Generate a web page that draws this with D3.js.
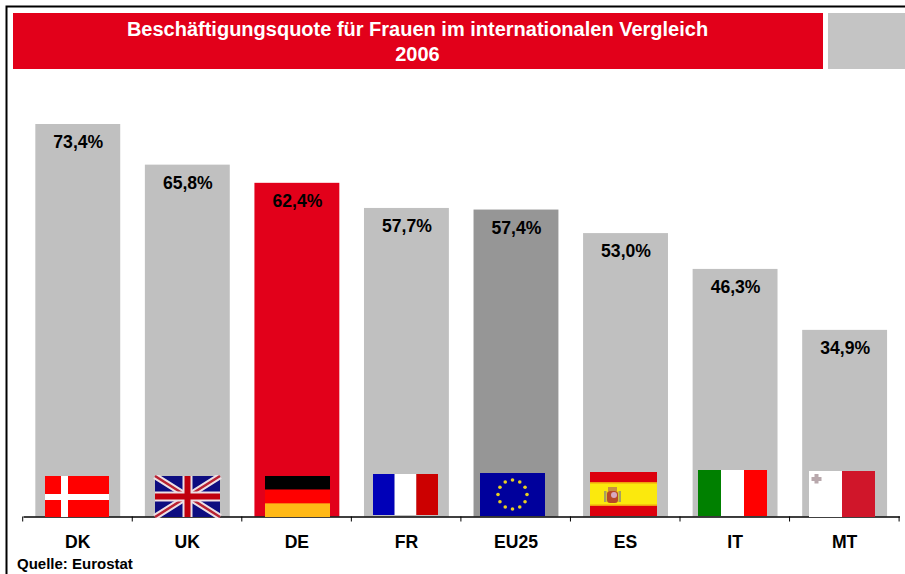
<!DOCTYPE html>
<html>
<head>
<meta charset="utf-8">
<script src="https://cdn.jsdelivr.net/npm/d3@7"></script>
<style>
  html, body { margin: 0; padding: 0; background: #fff; }
  text { font-family: "Liberation Sans", Arial, sans-serif; font-weight: bold; }
</style>
</head>
<body>
<div id="chart"></div>
<script>
const countries = ["DK", "UK", "DE", "FR", "EU25", "ES", "IT", "MT"];
const rates = [73.4, 65.8, 62.4, 57.7, 57.4, 53.0, 46.3, 34.9];
const titleLines = ["Beschäftigungsquote für Frauen im internationalen Vergleich", "2006"];
const source = "Quelle: Eurostat";

const width = 905, height = 574;
const baseY = 516.5, topY = 124;
const red = "#e2001a", grey = "#c0c0c0", darkGrey = "#969696";

const svg = d3.select("#chart").append("svg")
  .attr("width", width)
  .attr("height", height)
  .style("display", "block");

// flag pictures in the original are slightly soft
const defs = svg.append("defs");
defs.append("filter").attr("id", "soft")
  .attr("x", "-2%").attr("y", "-2%").attr("width", "104%").attr("height", "104%")
  .append("feGaussianBlur").attr("stdDeviation", 0.45);

// frame, only top and left side are visible
svg.append("path")
  .attr("d", "M6.5,574V6.5H905")
  .attr("fill", "none")
  .attr("stroke", "#000")
  .attr("stroke-width", 2);

// header
svg.append("rect").attr("x", 13).attr("y", 13).attr("width", 810).attr("height", 56).attr("fill", red);
svg.append("rect").attr("x", 828).attr("y", 13).attr("width", 77).attr("height", 56).attr("fill", "#c4c4c4");
svg.selectAll(".title").data(titleLines).enter().append("text")
  .attr("class", "title")
  .attr("x", 417.5)
  .attr("y", (d, i) => 35.5 + i * 25)
  .attr("text-anchor", "middle")
  .attr("fill", "#fff")
  .attr("font-size", 20)
  .text(d => d);

const x = d3.scaleBand().domain(countries).range([23, 899.4]).paddingInner(0.225).paddingOuter(0.1125);
const y = d3.scaleLinear().domain([0, 73.4]).range([baseY, topY]);

function barColor(c) {
  if (c === "DE") return red;
  if (c === "EU25") return darkGrey;
  return grey;
}

svg.selectAll(".bar").data(countries).enter().append("rect")
  .attr("class", "bar")
  .attr("x", d => x(d))
  .attr("y", (d, i) => y(rates[i]))
  .attr("width", x.bandwidth())
  .attr("height", (d, i) => baseY - y(rates[i]))
  .attr("fill", barColor);

const fmt = d3.format(".1f");
svg.selectAll(".value").data(countries).enter().append("text")
  .attr("class", "value")
  .attr("x", d => x(d) + x.bandwidth() / 2 + 0.5)
  .attr("y", (d, i) => y(rates[i]) + 24)
  .attr("text-anchor", "middle")
  .attr("font-size", 17.6)
  .attr("fill", "#000")
  .text((d, i) => fmt(rates[i]).replace(".", ",") + "%");

// flags, each drawn in a local box
function stripesV(g, w, h, cols) {
  cols.forEach((c, i) => g.append("rect").attr("x", i * w / cols.length).attr("width", w / cols.length).attr("height", h).attr("fill", c));
}
function stripesH(g, w, h, rows) {
  rows.forEach((c, i) => g.append("rect").attr("y", i * h / rows.length).attr("width", w).attr("height", h / rows.length).attr("fill", c));
}
const flagDraw = {
  DK(g, w, h) {
    g.append("rect").attr("width", w).attr("height", h).attr("fill", "#ff0000");
    g.append("rect").attr("x", 16).attr("width", 7).attr("height", h).attr("fill", "#fff");
    g.append("rect").attr("y", 18).attr("width", w).attr("height", 6).attr("fill", "#fff");
  },
  UK(g, w, h) {
    g.append("rect").attr("width", w).attr("height", h).attr("fill", "#0a0a80");
    g.append("path").attr("d", `M0,0L${w},${h}M${w},0L0,${h}`).attr("stroke", "#ece0e4").attr("stroke-width", 6.5);
    g.append("path").attr("d", `M0,0L${w},${h}M${w},0L0,${h}`).attr("stroke", "#b82030").attr("stroke-width", 2.5);
    g.append("path").attr("d", `M${w / 2},0V${h}M0,${h / 2}H${w}`).attr("stroke", "#ece0e4").attr("stroke-width", 10);
    g.append("path").attr("d", `M${w / 2},0V${h}M0,${h / 2}H${w}`).attr("stroke", "#c00010").attr("stroke-width", 6);
  },
  DE(g, w, h) { stripesH(g, w, h, ["#000", "#ff0000", "#ffb812"]); },
  FR(g, w, h) { stripesV(g, w, h, ["#0000b8", "#fff", "#cc0000"]); },
  EU25(g, w, h) {
    g.append("rect").attr("width", w).attr("height", h).attr("fill", "#00009c");
    d3.range(12).forEach(i => {
      const a = i * Math.PI / 6;
      g.append("circle")
        .attr("cx", w / 2 + 14.5 * Math.sin(a))
        .attr("cy", h / 2 - 14.5 * Math.cos(a))
        .attr("r", 1.8)
        .attr("fill", "#e8d020");
    });
  },
  ES(g, w, h) {
    g.append("rect").attr("width", w).attr("height", h).attr("fill", "#dc0010");
    g.append("rect").attr("y", 10).attr("width", w).attr("height", 24).attr("fill", "#f0a010");
    g.append("rect").attr("y", 11.5).attr("width", w).attr("height", 21).attr("fill", "#fbe90f");
    // coat of arms
    g.append("rect").attr("x", 14).attr("y", 19).attr("width", 2.5).attr("height", 11).attr("fill", "#a8a060");
    g.append("rect").attr("x", 28.5).attr("y", 19).attr("width", 2.5).attr("height", 11).attr("fill", "#a8a060");
    g.append("rect").attr("x", 18).attr("y", 15).attr("width", 9).attr("height", 4).attr("fill", "#c89040");
    g.append("rect").attr("x", 17).attr("y", 19).attr("width", 11).attr("height", 12).attr("rx", 3).attr("fill", "#b84a28");
    g.append("circle").attr("cx", 24).attr("cy", 23).attr("r", 3).attr("fill", "#d8a8c0");
  },
  IT(g, w, h) { stripesV(g, w, h, ["#008000", "#fff", "#ff0000"]); },
  MT(g, w, h) {
    g.append("rect").attr("width", w).attr("height", h).attr("fill", "#fff");
    g.append("rect").attr("x", w / 2).attr("width", w / 2).attr("height", h).attr("fill", "#d0142c");
    g.append("path").attr("d", "M7.5,3V12.5M2.5,8H12.5").attr("stroke", "#b8a8ac").attr("stroke-width", 4);
  }
};
// x, y, w, h of the pasted flag pictures
const flagBoxes = {
  DK: [45, 476, 64, 41], UK: [155, 476, 65, 41], DE: [265, 476, 65, 41], FR: [373, 474, 65, 41],
  EU25: [480, 473, 65, 43], ES: [590, 472, 67, 44], IT: [698, 470, 69, 46], MT: [809, 471, 66, 46]
};

// axis
const axis = d3.axisBottom(x).tickSize(0).tickPadding(0);
const axisG = svg.append("g").attr("transform", `translate(0,${baseY})`);
axisG.call(axis);
axisG.select(".domain").attr("stroke", "#000").attr("stroke-width", 1.5);
axisG.selectAll(".tick text")
  .attr("y", 31.5)
  .attr("dy", 0)
  .attr("font-size", 17.6)
  .attr("font-family", "Liberation Sans")
  .attr("font-weight", "bold")
  .attr("fill", "#000");
axisG.selectAll(".sep").data(d3.range(countries.length + 1)).enter().append("line")
  .attr("class", "sep")
  .attr("x1", i => 22.7 + i * x.step())
  .attr("x2", i => 22.7 + i * x.step())
  .attr("y1", 0)
  .attr("y2", 5)
  .attr("stroke", "#000");

countries.forEach(c => {
  const [fx, fy, fw, fh] = flagBoxes[c];
  const g = svg.append("g").attr("class", "flag").attr("transform", `translate(${fx},${fy})`);
  const inner = g.append("g").attr("filter", "url(#soft)");
  flagDraw[c](inner, fw, fh);
});

svg.append("text")
  .attr("x", 17)
  .attr("y", 569)
  .attr("font-size", 15)
  .attr("fill", "#000")
  .text(source);
</script>
</body>
</html>
